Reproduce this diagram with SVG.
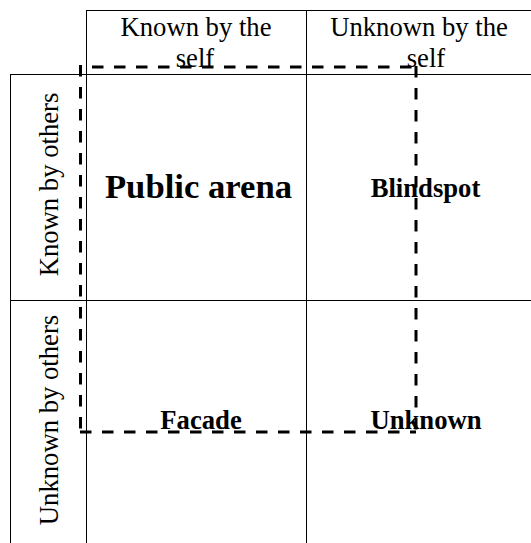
<svg xmlns="http://www.w3.org/2000/svg" width="531" height="543" viewBox="0 0 531 543">
<style>
.grid{stroke:#000;stroke-width:1;fill:none}
.dash{stroke:#000;stroke-width:3;stroke-dasharray:11.5 10.5;fill:none}
.hdr{font-family:"Liberation Serif","Times New Roman",serif;font-size:26.67px;fill:#000;text-anchor:middle}
.lbl{font-family:"Liberation Serif","Times New Roman",serif;font-weight:bold;font-size:26.67px;fill:#000;text-anchor:middle}
</style>
<rect width="531" height="543" fill="#fff"/>
<g id="grid">
<line class="grid" x1="86" y1="10.5" x2="531" y2="10.5"/>
<line class="grid" x1="10" y1="74.5" x2="531" y2="74.5"/>
<line class="grid" x1="10" y1="300.5" x2="531" y2="300.5"/>
<line class="grid" x1="10.5" y1="74" x2="10.5" y2="543"/>
<line class="grid" x1="86.5" y1="10" x2="86.5" y2="543"/>
<line class="grid" x1="306.5" y1="10" x2="306.5" y2="543"/>
</g>
<g id="header-known">
<text class="hdr" x="196" y="36">Known by the</text>
<text class="hdr" x="195" y="66.5">self</text>
</g>
<g id="header-unknown">
<text class="hdr" x="419" y="36">Unknown by the</text>
<text class="hdr" x="426" y="66.5">self</text>
</g>
<g id="row-known">
<text class="hdr" transform="translate(58,184.5) rotate(-90)" x="0" y="0">Known by others</text>
</g>
<g id="row-unknown">
<text class="hdr" transform="translate(58,420) rotate(-90)" x="0" y="0">Unknown by others</text>
</g>
<g id="connectors">
<line class="dash" x1="92" y1="67" x2="416" y2="67"/>
<line class="dash" x1="80.5" y1="65" x2="80.5" y2="433.5"/>
<line class="dash" x1="416" y1="66" x2="416" y2="432"/>
<line class="dash" x1="80" y1="432" x2="416" y2="432"/>
</g>
<g id="public-arena">
<text class="lbl" x="198.5" y="198" style="font-size:34.67px">Public arena</text>
</g>
<g id="blindspot">
<text class="lbl" x="425.5" y="197">Blindspot</text>
</g>
<g id="facade">
<text class="lbl" x="201" y="429">Facade</text>
</g>
<g id="unknown">
<text class="lbl" x="426" y="429">Unknown</text>
</g>
</svg>
